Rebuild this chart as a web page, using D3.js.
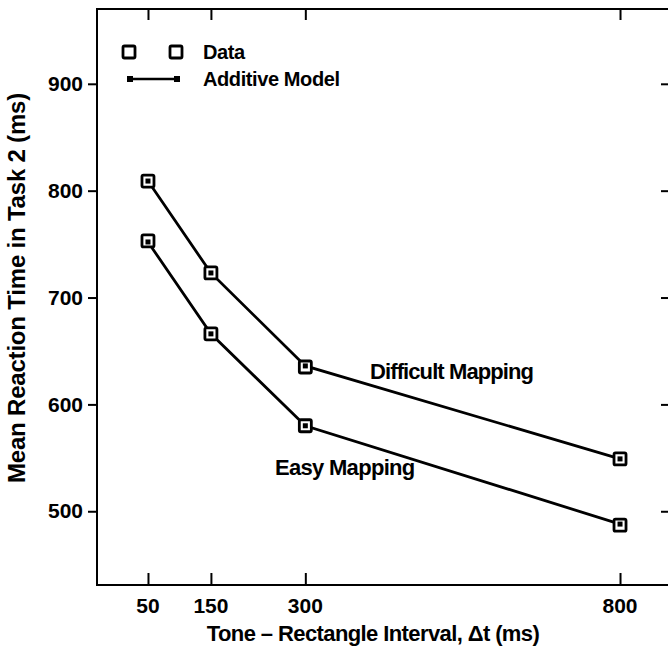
<!DOCTYPE html>
<html>
<head>
<meta charset="utf-8">
<script src="https://cdn.jsdelivr.net/npm/d3@7"></script>
<style>
  html, body { margin: 0; padding: 0; background: #fff; }
  svg text { font-family: "Liberation Sans", Arial, Helvetica, sans-serif; fill: #000; font-weight: bold; }
</style>
</head>
<body>
<svg id="chart" width="668" height="653"></svg>
<script>
// ---- data ----
const intervals = [50, 150, 300, 800];
const difficultData = [809, 723, 635, 549];
const easyData = [753, 666, 580, 487];
const difficultModel = [809, 723, 636, 549];
const easyModel = [752, 666, 580, 488];
const xTicks = [50, 150, 300, 800];
const yTicks = [500, 600, 700, 800, 900];
const legendLabels = ["Data", "Additive Model"];
const seriesLabels = ["Difficult Mapping", "Easy Mapping"];
const xTitle = "Tone \u2013 Rectangle Interval, \u0394t (ms)";
const yTitle = "Mean Reaction Time in Task 2 (ms)";

const svg = d3.select("#chart");
const pLeft = 97, pRight = 671, pTop = 9, pBottom = 585;

const x = d3.scaleLinear().domain([-31, 881]).range([pLeft, pRight]);
const y = d3.scaleLinear().domain([431, 970]).range([pBottom, pTop]);

// frame
svg.append("rect").attr("x", pLeft).attr("y", pTop)
  .attr("width", pRight - pLeft).attr("height", pBottom - pTop)
  .attr("fill", "none").attr("stroke", "#000").attr("stroke-width", 2);

// left axis (outward ticks with labels)
const yAxis = d3.axisLeft(y).tickValues(yTicks).tickSize(9).tickPadding(5);
const gy = svg.append("g").attr("transform", `translate(${pLeft},0)`).call(yAxis);
gy.select(".domain").remove();
gy.selectAll("line").attr("stroke", "#000").attr("stroke-width", 2);
gy.selectAll("text").style("font-size", "21px")
  .style("font-family", "'Liberation Sans', Arial, sans-serif").attr("fill", "#000");

// right axis (inward ticks)
const gr = svg.append("g").attr("transform", `translate(${pRight},0)`)
  .call(d3.axisRight(y).tickValues(yTicks).tickSize(-10).tickFormat(""));
gr.select(".domain").remove();
gr.selectAll("line").attr("stroke", "#000").attr("stroke-width", 2);

// bottom axis (inward ticks, labels below)
const gx = svg.append("g").attr("transform", `translate(0,${pBottom})`)
  .call(d3.axisBottom(x).tickValues(xTicks).tickSize(-12).tickFormat(""));
gx.select(".domain").remove();
gx.selectAll("line").attr("stroke", "#000").attr("stroke-width", 2);
svg.append("g").selectAll("text").data(xTicks).join("text")
  .attr("x", d => x(d)).attr("y", 613)
  .attr("text-anchor", "middle")
  .style("font-size", "21px")
  .text(d => d);

// top axis (inward ticks)
const gt = svg.append("g").attr("transform", `translate(0,${pTop})`)
  .call(d3.axisTop(x).tickValues(xTicks).tickSize(-11).tickFormat(""));
gt.select(".domain").remove();
gt.selectAll("line").attr("stroke", "#000").attr("stroke-width", 2);

// axis titles
svg.append("text").attr("x", 373).attr("y", 641).attr("text-anchor", "middle")
  .style("font-size", "22px").style("letter-spacing", "-0.6px").text(xTitle);
svg.append("text").attr("transform", "translate(25,288) rotate(-90)")
  .attr("text-anchor", "middle")
  .style("font-size", "24px").style("letter-spacing", "-0.2px").text(yTitle);

// model lines
const line = d3.line().x((d, i) => x(intervals[i])).y(d => y(d));
[difficultModel, easyModel].forEach(m => {
  svg.append("path").datum(m).attr("d", line)
    .attr("fill", "none").attr("stroke", "#000").attr("stroke-width", 2.8);
});

// data squares
const sq = 12;
[difficultData, easyData].forEach(dd => {
  svg.append("g").selectAll("rect").data(dd).join("rect")
    .attr("x", (d, i) => x(intervals[i]) - sq / 2)
    .attr("y", d => y(d) - sq / 2)
    .attr("width", sq).attr("height", sq).attr("rx", 1.5)
    .attr("fill", "#fff").attr("stroke", "#000").attr("stroke-width", 2.8);
});
// model points (small filled squares)
[difficultModel, easyModel].forEach(m => {
  svg.append("g").selectAll("rect").data(m).join("rect")
    .attr("x", (d, i) => x(intervals[i]) - 2.5)
    .attr("y", d => y(d) - 2.5)
    .attr("width", 5).attr("height", 5).attr("fill", "#000");
});

// series labels
svg.append("text").attr("x", 370).attr("y", 379)
  .style("font-size", "22px").style("letter-spacing", "-0.9px").text(seriesLabels[0]);
svg.append("text").attr("x", 275).attr("y", 475)
  .style("font-size", "22px").style("letter-spacing", "-0.7px").text(seriesLabels[1]);

// legend
const lg = svg.append("g");
[129, 176].forEach(cx => {
  lg.append("rect").attr("x", cx - sq / 2).attr("y", 52 - sq / 2)
    .attr("width", sq).attr("height", sq).attr("rx", 1.5)
    .attr("fill", "#fff").attr("stroke", "#000").attr("stroke-width", 2.8);
});
lg.append("line").attr("x1", 130).attr("x2", 177).attr("y1", 79).attr("y2", 79)
  .attr("stroke", "#000").attr("stroke-width", 2.5);
[130, 177].forEach(cx => {
  lg.append("rect").attr("x", cx - 3).attr("y", 76).attr("width", 6).attr("height", 6).attr("fill", "#000");
});
lg.append("text").attr("x", 203).attr("y", 59)
  .style("font-size", "20px").style("letter-spacing", "-0.4px").text(legendLabels[0]);
lg.append("text").attr("x", 203).attr("y", 86)
  .style("font-size", "20px").style("letter-spacing", "-0.4px").text(legendLabels[1]);
</script>
</body>
</html>
